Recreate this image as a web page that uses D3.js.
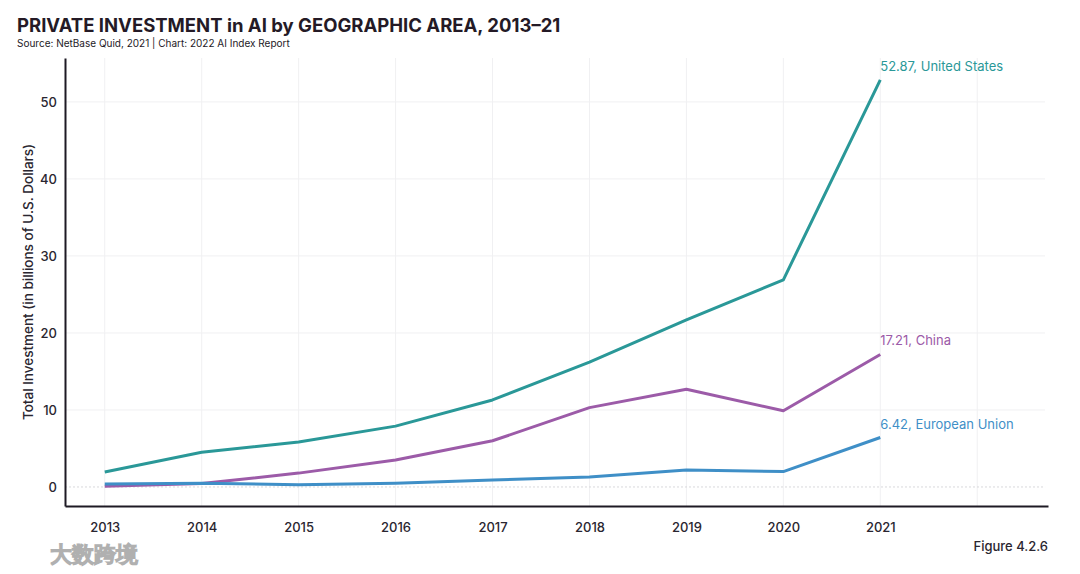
<!DOCTYPE html>
<html>
<head>
<meta charset="utf-8">
<script src="https://cdn.jsdelivr.net/npm/d3@7"></script>
<style>
  body { margin: 0; background: #fff; }
  text { font-family: Inter, "Noto Sans", sans-serif; }
</style>
</head>
<body>
<div id="chart-area"></div>
<script>
// data
let years = [2013, 2014, 2015, 2016, 2017, 2018, 2019, 2020, 2021];
let usValues = [1.95, 4.5, 5.84, 7.9, 11.3, 16.2, 21.7, 26.9, 52.87];
let chinaValues = [0.1, 0.45, 1.8, 3.5, 6.0, 10.3, 12.7, 9.9, 17.21];
let euValues = [0.4, 0.5, 0.3, 0.5, 0.9, 1.3, 2.2, 2.0, 6.42];
let seriesNames = ['United States', 'China', 'European Union'];
let yTicks = [0, 10, 20, 30, 40, 50];
let gridYears = [2013, 2014, 2015, 2016, 2017, 2018, 2019, 2020, 2021, 2022];

let series = [
	{ name: seriesNames[0], values: usValues, color: '#2a9898' },
	{ name: seriesNames[1], values: chinaValues, color: '#9c5ba8' },
	{ name: seriesNames[2], values: euValues, color: '#3f8fc7' }
];

//**************** Canvas *****************//
let W = 1080, H = 574;
let margin = { left: 65, right: 32, top: 58, bottom: 68 };
let width = W - margin.left - margin.right,
	height = H - margin.top - margin.bottom;

let svg = d3.select('#chart-area').append('svg')
	.attr('width', W)
	.attr('height', H);

let g = svg.append('g')
	.attr('transform', 'translate(' + margin.left + ', ' + margin.top + ')');

//**************** Scales *****************//
let x = d3.scaleLinear()
	.domain([2012.59, 2022.73])
	.range([0, width]);

let y = d3.scaleLinear()
	.domain([-2.47, 55.7])
	.range([height, 0]);

// grid
g.selectAll('.vgrid').data(gridYears).enter().append('line')
	.attr('x1', d => x(d)).attr('x2', d => x(d))
	.attr('y1', 0).attr('y2', height)
	.attr('stroke', '#f0f0f2').attr('stroke-width', 1);

g.selectAll('.hgrid').data(yTicks).enter().append('line')
	.attr('x1', 0).attr('x2', x(2022.7))
	.attr('y1', d => y(d)).attr('y2', d => y(d))
	.attr('stroke', d => d === 0 ? '#d8d8dc' : '#f0f0f2')
	.attr('stroke-dasharray', d => d === 0 ? '2,2' : null)
	.attr('stroke-width', 1);

// axes
let xAxisCall = d3.axisBottom(x).tickValues(years).tickFormat(d3.format('d')).tickSize(0).tickPadding(17);
let xAxisGroup = g.append('g')
	.attr('transform', 'translate(0, ' + height + ')')
	.call(xAxisCall);
xAxisGroup.select('.domain').attr('stroke', '#1e1a24').attr('stroke-width', 2);
xAxisGroup.selectAll('text').attr('font-size', '13px').attr('font-weight', 500).attr('fill', '#2a2630');

let yAxisCall = d3.axisLeft(y).tickValues(yTicks).tickSize(0).tickPadding(8);
let yAxisGroup = g.append('g').call(yAxisCall);
yAxisGroup.select('.domain').attr('stroke', '#1e1a24').attr('stroke-width', 2);
yAxisGroup.selectAll('text').attr('font-size', '13px').attr('font-weight', 500).attr('fill', '#2a2630');

//**************** Lines *****************//
let line = d3.line()
	.x((d, i) => x(years[i]))
	.y(d => y(d));

g.selectAll('.series').data(series).enter().append('path')
	.attr('d', d => line(d.values))
	.attr('fill', 'none')
	.attr('stroke', d => d.color)
	.attr('stroke-width', 3)
	.attr('stroke-linejoin', 'round');

g.selectAll('.end-label').data(series).enter().append('text')
	.attr('x', x(2021))
	.attr('y', d => y(d.values[d.values.length - 1]) - 9)
	.attr('font-size', '13px')
	.attr('fill', d => d.color)
	.text(d => d.values[d.values.length - 1].toFixed(2) + ', ' + d.name);

//**************** Labels *****************//
svg.append('text')
	.attr('x', 17).attr('y', 32)
	.attr('font-size', '18.5px').attr('font-weight', 'bold')
	.attr('fill', '#241a26')
	.text('PRIVATE INVESTMENT in AI by GEOGRAPHIC AREA, 2013–21');

svg.append('text')
	.attr('x', 17).attr('y', 47)
	.attr('font-size', '10px')
	.attr('fill', '#241a26')
	.text('Source: NetBase Quid, 2021 | Chart: 2022 AI Index Report');

svg.append('text')
	.attr('x', -(margin.top + height / 2)).attr('y', 33)
	.attr('transform', 'rotate(-90)')
	.attr('text-anchor', 'middle')
	.attr('font-size', '13.5px')
	.attr('font-weight', 500)
	.attr('fill', '#2a2630')
	.text('Total Investment (in billions of U.S. Dollars)');

svg.append('text')
	.attr('x', 1048).attr('y', 551)
	.attr('text-anchor', 'end')
	.attr('font-size', '13px')
	.attr('font-weight', 500)
	.attr('fill', '#2a2630')
	.text('Figure 4.2.6');

// watermark
svg.append('text')
	.attr('x', 50).attr('y', 562)
	.attr('font-size', '22px').attr('font-weight', 'bold')
	.attr('fill', '#ffffff')
	.attr('stroke', '#b0b0b0').attr('stroke-width', 1)
	.attr('font-family', '"Noto Sans CJK SC", sans-serif')
	.text('大数跨境');
</script>
</body>
</html>
